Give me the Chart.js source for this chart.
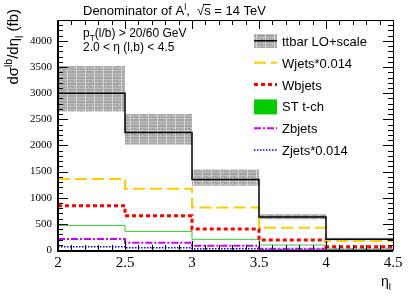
<!DOCTYPE html>
<html>
<head>
<meta charset="utf-8">
<script src="https://cdn.jsdelivr.net/npm/chart.js@4.4.0/dist/chart.umd.min.js"></script>
<style>
  body { margin: 0; background: #fff; }
  canvas { display: block; }
</style>
</head>
<body>
<canvas id="etaChart" width="415" height="298"></canvas>
<script>
// bin edges in eta_l
const binEdges = [2, 2.5, 3, 3.5, 4, 4.5];
const xTicks = [2, 2.5, 3, 3.5, 4, 4.5];
const yTicks = [0, 500, 1000, 1500, 2000, 2500, 3000, 3500, 4000];

// dsigma/deta (fb) per bin
const ttbar = [3000, 2250, 1350, 630, 208];
const ttbarLow = [2650, 2020, 1230, 590, 185];
const ttbarHigh = [3520, 2600, 1540, 690, 235];
const wjets = [1360, 1170, 815, 426, 172];
const wbjets = [846, 655, 401, 191, 64];
const stTch = [471, 356, 204, 95, 15];
const zbjets = [210, 140, 83, 25, 8];
const zjets = [63, 44, 25, 10, 5];

const SANS = '"Liberation Sans", Arial, sans-serif';
const SERIF = '"Liberation Serif", "Times New Roman", serif';

// step points: left edges + closing point at last edge
function toSteps(vals) {
  const pts = vals.map((v, i) => ({ x: binEdges[i], y: v }));
  pts.push({ x: binEdges[binEdges.length - 1], y: vals[vals.length - 1] });
  return pts;
}

// grey hatched look of the scale band
function makeBandPattern() {
  const c = document.createElement('canvas');
  c.width = 9; c.height = 6;
  const g = c.getContext('2d');
  g.fillStyle = '#a4a4a4';
  g.fillRect(0, 0, 9, 6);
  g.fillStyle = '#bdbdbd';
  g.fillRect(0, 1, 9, 1);
  g.fillRect(0, 4, 9, 1);
  g.fillStyle = '#d6d6d6';
  g.fillRect(4, 0, 1, 6);
  g.fillRect(2, 2, 1, 1);
  g.fillRect(7, 3, 1, 1);
  const ctx = document.getElementById('etaChart').getContext('2d');
  return ctx.createPattern(c, 'repeat');
}
const bandFill = makeBandPattern();

// draw text made of pieces, some raised or lowered
function drawRich(ctx, parts, x, y, size) {
  parts.forEach(p => {
    const s = p.sub || p.sup ? size * 0.7 : size;
    ctx.font = s + 'px ' + SANS;
    let dy = 0;
    if (p.sub) dy = size * 0.3;
    if (p.sup) dy = -size * 0.4;
    ctx.fillText(p.t, x, y + dy);
    x += ctx.measureText(p.t).width;
  });
  return x;
}
function richWidth(ctx, parts, size) {
  let w = 0;
  parts.forEach(p => {
    const s = p.sub || p.sup ? size * 0.7 : size;
    ctx.font = s + 'px ' + SANS;
    w += ctx.measureText(p.t).width;
  });
  return w;
}

const legendItems = [
  { label: 'ttbar LO+scale', kind: 'band' },
  { label: 'Wjets*0.014', kind: 'line', color: '#ffcc00', width: 2, dash: [12, 5] },
  { label: 'Wbjets', kind: 'line', color: '#ff0000', width: 3, dash: [4, 3] },
  { label: 'ST t-ch', kind: 'box', color: '#00cc00' },
  { label: 'Zbjets', kind: 'line', color: '#cc00ff', width: 2, dash: [7, 2, 2, 2] },
  { label: 'Zjets*0.014', kind: 'line', color: '#0000ff', width: 1.5, dash: [1.5, 1.5] }
];

const framePlugin = {
  id: 'rootFrame',
  afterDatasetsDraw(chart) {
    const ctx = chart.ctx;
    const a = chart.chartArea;
    const xs = chart.scales.x, ys = chart.scales.y;
    ctx.save();
    ctx.strokeStyle = '#000';
    ctx.lineWidth = 1;
    ctx.beginPath();
    // y ticks, left and right
    for (let v = 0; v <= 4400; v += 100) {
      const py = Math.round(ys.getPixelForValue(v)) + 0.5;
      const len = v % 500 === 0 ? 10 : 5;
      ctx.moveTo(a.left, py); ctx.lineTo(a.left + len, py);
      ctx.moveTo(a.right, py); ctx.lineTo(a.right - len, py);
    }
    // x ticks, bottom and top
    for (let i = 0; i <= 25; i++) {
      const v = 2 + i * 0.1;
      const px = Math.round(xs.getPixelForValue(v)) + 0.5;
      const len = i % 5 === 0 ? 9 : 5;
      ctx.moveTo(px, a.bottom); ctx.lineTo(px, a.bottom - len);
      ctx.moveTo(px, a.top); ctx.lineTo(px, a.top + len);
    }
    ctx.stroke();
    ctx.beginPath();
    ctx.rect(Math.round(a.left) + 0.5, Math.round(a.top) + 0.5,
      Math.round(a.right - a.left), Math.round(a.bottom - a.top));
    ctx.stroke();
    ctx.lineWidth = 2;
    ctx.beginPath();
    ctx.moveTo(a.left, a.top); ctx.lineTo(a.left, a.bottom + 1);
    ctx.lineTo(a.right, a.bottom + 1);
    ctx.stroke();
    ctx.restore();
  },
  afterDraw(chart) {
    const ctx = chart.ctx;
    ctx.save();
    ctx.fillStyle = '#000';
    ctx.textBaseline = 'alphabetic';
    ctx.textAlign = 'left';

    // title
    let x = drawRich(ctx, [{ t: 'Denominator of A' }, { t: 'l', sup: true }, { t: ',  ' }], 83, 15, 13);
    ctx.font = '13px ' + SANS;
    ctx.fillText('\u221A', x, 15);
    const sx = x + ctx.measureText('\u221A').width;
    const sw = ctx.measureText('s').width;
    ctx.fillText('s', sx, 15);
    ctx.fillRect(sx - 1, 4, sw + 1, 1);
    ctx.fillText(' = 14 TeV', sx + sw, 15);

    // cut text
    drawRich(ctx, [{ t: 'p' }, { t: 'T', sub: true }, { t: '(l/b) > 20/60 GeV' }], 83, 37, 12);
    drawRich(ctx, [{ t: '2.0 < \u03B7 (l,b) < 4.5' }], 83, 51, 12);

    // y title, rotated
    ctx.save();
    const yParts = [{ t: 'd\u03C3' }, { t: 'lb', sup: true }, { t: '/d\u03B7' }, { t: 'l', sub: true }, { t: ' (fb)' }];
    const yw = richWidth(ctx, yParts, 15);
    ctx.translate(18, 9 + yw);
    ctx.rotate(-Math.PI / 2);
    drawRich(ctx, yParts, 0, 0, 15);
    ctx.restore();

    // x title
    drawRich(ctx, [{ t: '\u03B7' }, { t: 'l', sub: true }], 381, 286, 14);

    // legend
    legendItems.forEach((it, i) => {
      const cy = 41 + i * 21.8;
      const x0 = 254, x1 = 277;
      if (it.kind === 'band') {
        ctx.fillStyle = bandFill;
        ctx.fillRect(x0, cy - 7, x1 - x0, 14);
        ctx.fillStyle = '#000';
        ctx.fillRect(x0, cy - 1, x1 - x0, 1.5);
      } else if (it.kind === 'box') {
        ctx.fillStyle = it.color;
        ctx.fillRect(x0, cy - 7, x1 - x0, 15);
      } else {
        ctx.strokeStyle = it.color;
        ctx.lineWidth = it.width;
        ctx.setLineDash(it.dash);
        ctx.beginPath();
        ctx.moveTo(x0, cy); ctx.lineTo(x1, cy);
        ctx.stroke();
        ctx.setLineDash([]);
      }
      ctx.fillStyle = '#000';
      ctx.font = '13px ' + SANS;
      ctx.fillText(it.label, 282, cy + 5);
    });
    ctx.restore();
  }
};

function stepLine(data, color, width, dash, order) {
  return {
    data: toSteps(data),
    stepped: true,
    borderColor: color,
    borderWidth: width,
    borderDash: dash,
    pointRadius: 0,
    fill: false,
    order: order
  };
}

new Chart(document.getElementById('etaChart'), {
  type: 'line',
  data: {
    datasets: [
      { data: toSteps(ttbarLow), stepped: true, borderWidth: 0, borderColor: 'rgba(0,0,0,0)', pointRadius: 0, fill: false, order: 20 },
      { data: toSteps(ttbarHigh), stepped: true, borderWidth: 0, borderColor: 'rgba(0,0,0,0)', pointRadius: 0, fill: '-1', backgroundColor: bandFill, order: 19 },
      stepLine(ttbar, '#000000', 1.5, [], 1),
      stepLine(wjets, '#ffcc00', 2, [12, 5], 2),
      stepLine(wbjets, '#ff0000', 3, [4, 3], 3),
      stepLine(stTch, '#33cc33', 1, [], 4),
      stepLine(zbjets, '#cc00ff', 2, [7, 2, 2, 2], 5),
      stepLine(zjets, '#0000ff', 1.5, [1.5, 1.5], 6)
    ]
  },
  options: {
    responsive: false,
    animation: false,
    devicePixelRatio: 1,
    layout: { padding: { top: 20, right: 22, left: 0, bottom: 0 } },
    plugins: {
      legend: { display: false },
      tooltip: { enabled: false }
    },
    scales: {
      x: {
        type: 'linear',
        min: 2,
        max: 4.5,
        afterFit: s => { s.height = 48; },
        afterBuildTicks: s => { s.ticks = xTicks.map(v => ({ value: v })); },
        grid: { display: false, drawTicks: false },
        border: { display: false },
        ticks: {
          color: '#000',
          padding: 4,
          maxRotation: 0,
          font: { family: SERIF, size: 15 },
          callback: v => String(v)
        }
      },
      y: {
        type: 'linear',
        min: 0,
        max: 4400,
        afterFit: s => { s.width = 58; },
        afterBuildTicks: s => { s.ticks = yTicks.map(v => ({ value: v })); },
        grid: { display: false, drawTicks: false },
        border: { display: false },
        ticks: {
          color: '#000',
          padding: 6,
          font: { family: SERIF, size: 11 },
          callback: v => String(v)
        }
      }
    }
  },
  plugins: [framePlugin]
});
</script>
</body>
</html>
